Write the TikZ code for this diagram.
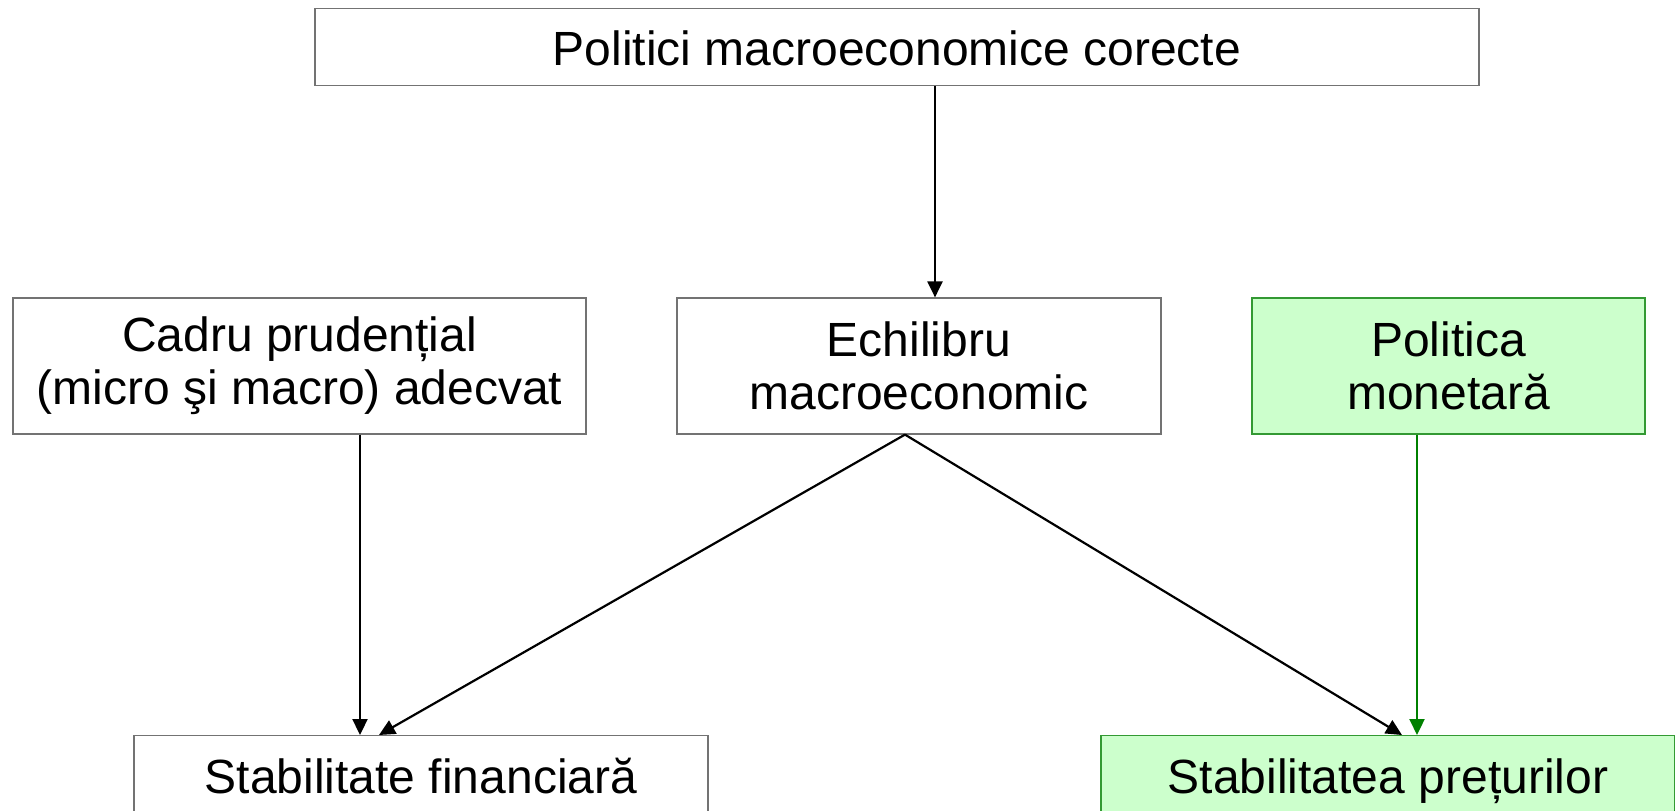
\documentclass[tikz,border=0pt]{standalone}
\usepackage{fontspec}
\setmainfont{Liberation Sans}
\usetikzlibrary{arrows.meta}
\definecolor{lightgreen}{HTML}{CCFFCC}
\definecolor{boxgreen}{HTML}{339933}
\definecolor{arrgreen}{HTML}{008000}
\tikzset{
  box/.style={draw=black!55, line width=0.6pt, fill=white, inner sep=0pt, align=center,
    font=\fontsize{24}{25.5}\selectfont},
  gbox/.style={box, draw=boxgreen, fill=lightgreen},
  arr/.style={line width=1.1pt, -{Triangle[length=8pt,width=7.5pt]}},
  garr/.style={arr, draw=arrgreen, -{Triangle[length=8pt,width=7.5pt,fill=arrgreen]}}
}
\begin{document}
\begin{tikzpicture}[x=0.5pt,y=-0.5pt]
\useasboundingbox (0,0) rectangle (1675,810);
\clip (0,0) rectangle (1675,810);
\node[box, minimum width=582pt, anchor=north, text height=28.5pt, text depth=10pt] (top) at (897,8) {Politici macroeconomice corecte};
\node[box, minimum width=286.5pt, minimum height=68pt] (cadru) at (299.5,366) {Cadru prudențial\\[1pt](micro şi macro) adecvat};
\node[box, minimum width=242pt, minimum height=68pt] (ech) at (919,366) {Echilibru\\[1pt]macroeconomic};
\node[gbox, minimum width=196.5pt, minimum height=68pt] (pol) at (1448.5,366) {Politica\\[1pt]monetară};
\node[box, minimum width=287pt, anchor=north, text height=29pt, text depth=30pt] (sf) at (421,735) {Stabilitate financiară};
\node[gbox, minimum width=287pt, anchor=north, text height=29pt, text depth=30pt] (sp) at (1388,735) {Stabilitatea prețurilor};
\coordinate (apex) at ([xshift=-7pt]ech.south);
\draw[arr] (top.south -| 935,0) -- (ech.north -| 935,0);
\draw[arr] (cadru.south -| 360,0) -- (sf.north -| 360,0);
\draw[arr] (apex) -- ([xshift=-21pt]sf.north);
\draw[arr] (apex) -- ([xshift=7pt]sp.north);
\draw[garr] (pol.south -| 1417,0) -- (sp.north -| 1417,0);
\end{tikzpicture}
\end{document}
